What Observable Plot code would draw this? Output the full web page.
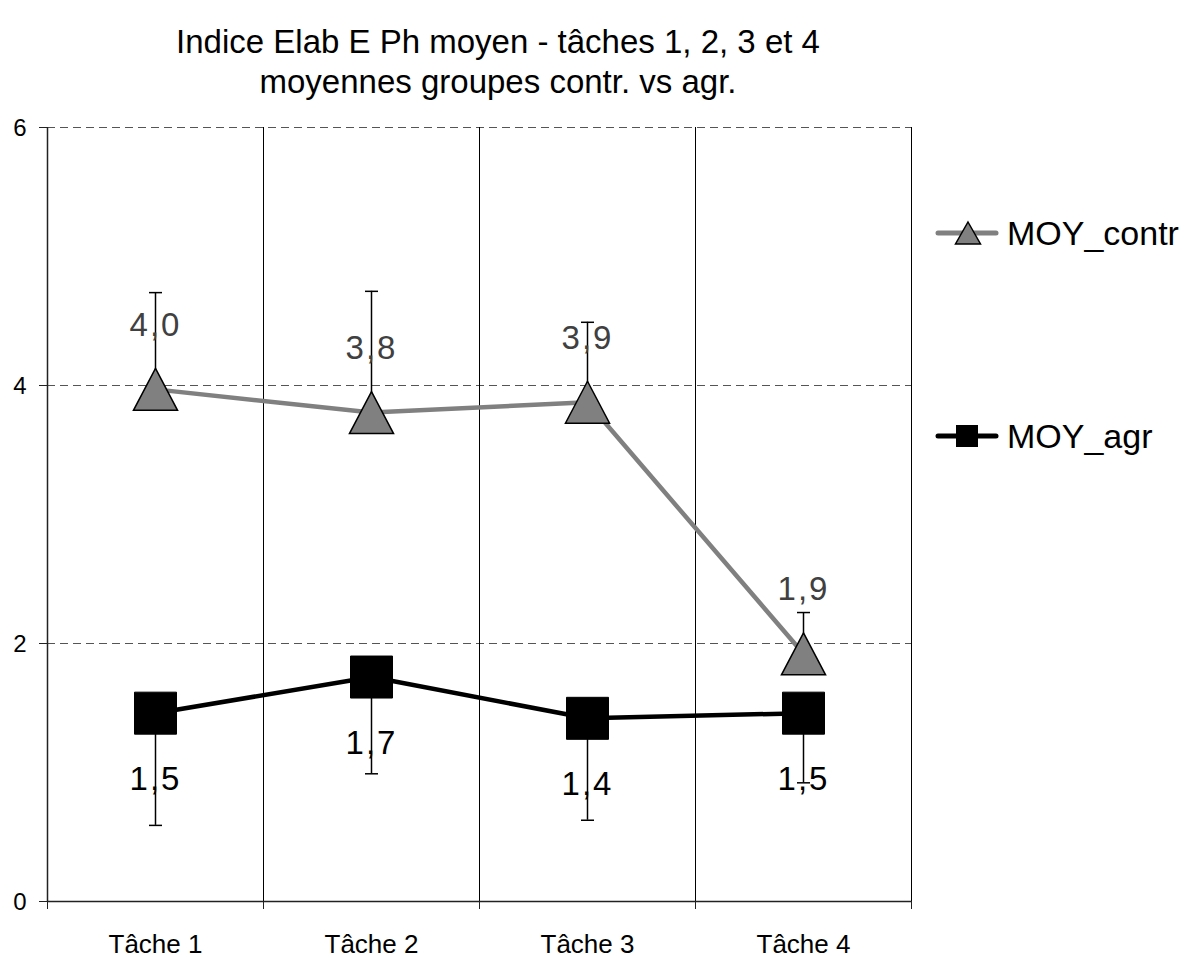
<!DOCTYPE html>
<html>
<head>
<meta charset="utf-8">
<script src="https://cdn.jsdelivr.net/npm/d3@7"></script>
<script src="https://cdn.jsdelivr.net/npm/@observablehq/plot@0.6"></script>
<style>
  html, body { margin: 0; padding: 0; background: #fff; }
  #wrap { position: relative; width: 1188px; height: 958px; overflow: hidden; font-family: "Liberation Sans", Arial, sans-serif; color: #000; }
  #title { position: absolute; left: 0; top: 22px; width: 996px; text-align: center; font-size: 33px; line-height: 40px; }
  #chart { position: absolute; left: 0; top: 99px; }
  .leg { position: absolute; left: 935px; display: flex; align-items: center; font-size: 34px; }
  .leg svg { margin-right: 8px; }
</style>
</head>
<body>
<div id="wrap">
  <div id="title">Indice Elab E Ph moyen - tâches 1, 2, 3 et 4<br>moyennes groupes contr. vs agr.</div>
  <div id="chart"></div>
  <div class="leg" style="top:213px">
    <svg width="64" height="40"><line x1="3" y1="20" x2="61" y2="20" stroke="#808080" stroke-width="5" stroke-linecap="round"/><polygon points="33,9 45.5,31 20.5,31" fill="#808080" stroke="#000" stroke-width="1.5"/></svg>
    <span>MOY_contr</span>
  </div>
  <div class="leg" style="top:416px">
    <svg width="64" height="40"><line x1="3" y1="20" x2="61" y2="20" stroke="#000" stroke-width="5" stroke-linecap="round"/><rect x="21" y="9" width="22" height="22" fill="#000"/></svg>
    <span>MOY_agr</span>
  </div>
</div>
<script>
const categories = ["Tâche 1", "Tâche 2", "Tâche 3", "Tâche 4"];
const contrMean = [3.97, 3.79, 3.87, 1.92];
const contrErr = [0.75, 0.94, 0.62, 0.32];
const contrLabels = ["4,0", "3,8", "3,9", "1,9"];
const agrMean = [1.46, 1.74, 1.42, 1.46];
const agrErr = [0.87, 0.75, 0.79, 0.54];
const agrLabels = ["1,5", "1,7", "1,4", "1,5"];
const yTicks = [0, 2, 4, 6];
const yGrid = [2, 4, 6];

const idx = categories.map((c, i) => i + 1);
const bounds = [0.5, ...idx.map(i => i + 0.5)];
const cats = categories.map((c, i) => ({i: i + 1, name: c}));
const contr = categories.map((c, i) => ({i: i + 1, mean: contrMean[i], err: contrErr[i], label: contrLabels[i]}));
const agr = categories.map((c, i) => ({i: i + 1, mean: agrMean[i], err: agrErr[i], label: agrLabels[i]}));

const triSym = {draw(ctx, size) { const r = Math.sqrt(size / Math.PI); ctx.moveTo(0, -r); ctx.lineTo(r * 1.05, r); ctx.lineTo(-r * 1.05, r); ctx.closePath(); }};
const sqSym = {draw(ctx, size) { const r = Math.sqrt(size / Math.PI); ctx.rect(-r, -r, 2 * r, 2 * r); }};
const capSym = {draw(ctx, size) { const r = Math.sqrt(size / Math.PI); ctx.moveTo(-r, 0); ctx.lineTo(r, 0); }};

const plot = Plot.plot({
  width: 951,
  height: 859,
  marginTop: 28,
  marginBottom: 57,
  marginLeft: 47,
  marginRight: 40,
  style: {fontFamily: "'Liberation Sans', Arial, sans-serif", color: "#000", background: "transparent", overflow: "visible"},
  x: {domain: [0.5, 4.5]},
  y: {domain: [0, 6]},
  marks: [
    Plot.ruleY(yGrid, {stroke: "#555", strokeWidth: 1, strokeDasharray: "8,5"}),
    Plot.ruleX(bounds.slice(1), {stroke: "#000", strokeWidth: 1}),
    Plot.ruleX([0.5], {stroke: "#222", strokeWidth: 1.5}),
    Plot.ruleY([0], {stroke: "#222", strokeWidth: 1.5}),
    Plot.axisY({ticks: yTicks, tickSize: 8, tickFormat: () => "", label: null, stroke: "#222"}),
    Plot.axisX({ticks: bounds, tickSize: 8, tickFormat: () => "", label: null, stroke: "#222"}),
    Plot.text(yTicks, {x: 0.5, y: d => d, text: d => String(d), dx: -21, dy: 1, textAnchor: "end", fontSize: 24, fill: "#000"}),
    Plot.text(cats, {x: "i", y: 0, text: "name", dy: 43, fontSize: 26, fill: "#000"}),
    Plot.line(contr, {x: "i", y: "mean", stroke: "#808080", strokeWidth: 4.5}),
    Plot.line(agr, {x: "i", y: "mean", stroke: "#000", strokeWidth: 4.5}),
    Plot.ruleX(contr, {x: "i", y1: "mean", y2: d => d.mean + d.err, stroke: "#000", strokeWidth: 1.5}),
    Plot.dot(contr, {x: "i", y: d => d.mean + d.err, symbol: capSym, r: 6.5, stroke: "#000", strokeWidth: 1.5, fill: "none"}),
    Plot.ruleX(agr, {x: "i", y1: "mean", y2: d => d.mean - d.err, stroke: "#000", strokeWidth: 1.5}),
    Plot.dot(agr, {x: "i", y: d => d.mean - d.err, symbol: capSym, r: 6.5, stroke: "#000", strokeWidth: 1.5, fill: "none"}),
    Plot.dot(contr, {x: "i", y: "mean", symbol: triSym, r: 21, fill: "#808080", stroke: "#000", strokeWidth: 1.5}),
    Plot.dot(agr, {x: "i", y: "mean", symbol: sqSym, r: 21, fill: "#000", stroke: "#000", strokeWidth: 1}),
    Plot.text(contr, {x: "i", y: "mean", text: "label", dy: -64, fontSize: 33, fill: "#404040"}),
    Plot.text(agr, {x: "i", y: "mean", text: "label", dy: 66, fontSize: 33, fill: "#000"})
  ]
});
document.getElementById("chart").appendChild(plot);
// widen the value labels slightly, as in the reference
const labelSet = new Set([...contrLabels, ...agrLabels]);
d3.select(plot).selectAll("text").each(function() {
  if (labelSet.has(this.textContent)) this.style.letterSpacing = "2px";
});
</script>
</body>
</html>
